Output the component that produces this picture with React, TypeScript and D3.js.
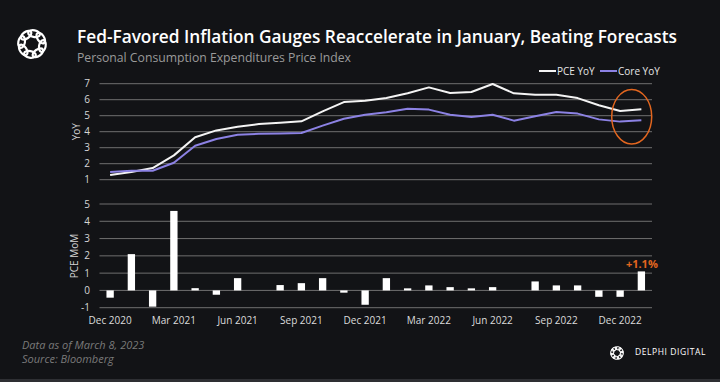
import React from "react";
import * as d3 from "d3";

const months = [
  "Dec 2020","Jan 2021","Feb 2021","Mar 2021","Apr 2021","May 2021","Jun 2021","Jul 2021","Aug 2021","Sep 2021","Oct 2021","Nov 2021",
  "Dec 2021","Jan 2022","Feb 2022","Mar 2022","Apr 2022","May 2022","Jun 2022","Jul 2022","Aug 2022","Sep 2022","Oct 2022","Nov 2022",
  "Dec 2022","Jan 2023",
];
const pceYoY = [1.3,1.48,1.73,2.52,3.65,4.08,4.31,4.48,4.56,4.65,5.27,5.85,5.94,6.1,6.4,6.77,6.42,6.48,6.98,6.4,6.31,6.31,6.1,5.65,5.29,5.4];
const coreYoY = [1.48,1.56,1.56,2.06,3.12,3.54,3.81,3.87,3.89,3.92,4.38,4.81,5.06,5.21,5.44,5.38,5.06,4.92,5.06,4.69,4.96,5.23,5.13,4.77,4.63,4.71];
const pceMoM = [-0.42,2.1,-0.94,4.6,0.13,-0.25,0.71,0,0.31,0.42,0.71,-0.13,-0.83,0.71,0.12,0.29,0.19,0.12,0.19,0,0.52,0.29,0.29,-0.37,-0.37,1.1];
const xTickLabels = ["Dec 2020","Mar 2021","Jun 2021","Sep 2021","Dec 2021","Mar 2022","Jun 2022","Sep 2022","Dec 2022"];
const topTicks = [1,2,3,4,5,6,7];
const bottomTicks = [-1,0,1,2,3,4,5];

const BG = "#121316";
const GRID = "#6f6f6f";
const WHITE = "#f4f4f4";
const PURPLE = "#8c82e4";
const ORANGE = "#e2661f";
const FONT = "'Open Sans', 'Noto Sans', sans-serif";

function Logo({ cx, cy, r, sw }: { cx: number; cy: number; r: number; sw: number }) {
  const n = 8;
  return (
    <g fill="none" stroke="#ffffff" strokeWidth={sw}>
      {d3.range(n).map((i) => {
        const a = (i / n) * 360 + 11;
        return (
          <ellipse
            key={i}
            cx={0}
            cy={-r * 0.64}
            rx={r * 0.36}
            ry={r * 0.2}
            transform={`translate(${cx},${cy}) rotate(${a})`}
          />
        );
      })}
    </g>
  );
}

export default function App() {
  const W = 720, H = 382;
  const x = d3.scalePoint<string>().domain(months).range([99.5, 652]).padding(0.5);
  const step = x.step();
  const yTop = d3.scaleLinear().domain([1, 7]).range([179.7, 83.7]);
  const yBot = d3.scaleLinear().domain([-1, 5]).range([307.7, 204]);

  const line = d3.line<number>().x((_, i) => x(months[i])!).y((d) => yTop(d));
  const barW = step * 0.345;

  const last = months[months.length - 1];

  return (
    <svg width={W} height={H} style={{ position: "absolute", left: 0, top: 0, background: BG }} fontFamily={FONT}>
      <rect x={0} y={0} width={W} height={H} fill={BG} />
      <rect x={0} y={379} width={W} height={3} fill="#2e2f33" />

      <Logo cx={32} cy={44} r={16.5} sw={2.2} />

      <text x={77} y={43} fill="#ffffff" fontSize={18} fontWeight={600} textLength={600} lengthAdjust="spacingAndGlyphs">
        Fed-Favored Inflation Gauges Reaccelerate in January, Beating Forecasts
      </text>
      <text x={77} y={62} fill="#9a9a9a" fontSize={13} textLength={274} lengthAdjust="spacingAndGlyphs">
        Personal Consumption Expenditures Price Index
      </text>

      {/* legend */}
      <line x1={539} x2={556} y1={71} y2={71} stroke={WHITE} strokeWidth={2} />
      <text x={557} y={74.5} fill="#e6e6e6" fontSize={10}>PCE YoY</text>
      <line x1={600} x2={617} y1={71} y2={71} stroke={PURPLE} strokeWidth={2} />
      <text x={618} y={74.5} fill="#e6e6e6" fontSize={10}>Core YoY</text>

      {/* top grid */}
      {topTicks.map((t) => (
        <g key={"t" + t}>
          <line x1={99.5} x2={652} y1={yTop(t)} y2={yTop(t)} stroke={GRID} strokeWidth={1} />
          <text x={90} y={yTop(t) + 3.5} fill="#d6d6d6" fontSize={10} textAnchor="end">{t}</text>
        </g>
      ))}
      <text transform={`translate(80,131.7) rotate(-90)`} fill="#d6d6d6" fontSize={10} textAnchor="middle">YoY</text>

      <path d={line(pceYoY) || ""} fill="none" stroke={WHITE} strokeWidth={2} strokeLinejoin="round" />
      <path d={line(coreYoY) || ""} fill="none" stroke={PURPLE} strokeWidth={2} strokeLinejoin="round" />

      <ellipse cx={631.7} cy={116.7} rx={20} ry={27.3} fill="none" stroke={ORANGE} strokeWidth={1.5} />

      {/* bottom grid */}
      {bottomTicks.map((t) => (
        <g key={"b" + t}>
          <line x1={99.5} x2={652} y1={yBot(t)} y2={yBot(t)} stroke={GRID} strokeWidth={1} />
          <text x={90} y={yBot(t) + 3.5} fill="#d6d6d6" fontSize={10} textAnchor="end">{t}</text>
        </g>
      ))}
      <text transform={`translate(78,256) rotate(-90)`} fill="#d6d6d6" fontSize={10} textAnchor="middle">PCE MoM</text>

      {pceMoM.map((v, i) => {
        const cx = x(months[i])!;
        const y0 = yBot(0), y1 = yBot(v);
        return (
          <rect key={"bar" + i} x={cx - barW / 2} y={Math.min(y0, y1)} width={barW} height={Math.abs(y1 - y0)} fill="#ffffff" />
        );
      })}
      <text x={x(last)! + 0.5} y={267.5} fill={ORANGE} fontSize={11} fontWeight={700} textAnchor="middle">+1.1%</text>

      {xTickLabels.map((m) => (
        <text key={m} x={x(m)!} y={323.5} fill="#dcdcdc" fontSize={10} textAnchor="middle">{m}</text>
      ))}

      {/* footer */}
      <text x={22} y={349} fill="#7a7a7a" fontSize={11} fontStyle="italic">Data as of March 8, 2023</text>
      <text x={22} y={363} fill="#7a7a7a" fontSize={11} fontStyle="italic">Source: Bloomberg</text>

      <Logo cx={617} cy={353} r={7.5} sw={1.1} />
      <text x={635} y={355} fill="#ffffff" fontSize={8.5} letterSpacing={1.6} textLength={72} lengthAdjust="spacing">DELPHI DIGITAL</text>
    </svg>
  );
}
